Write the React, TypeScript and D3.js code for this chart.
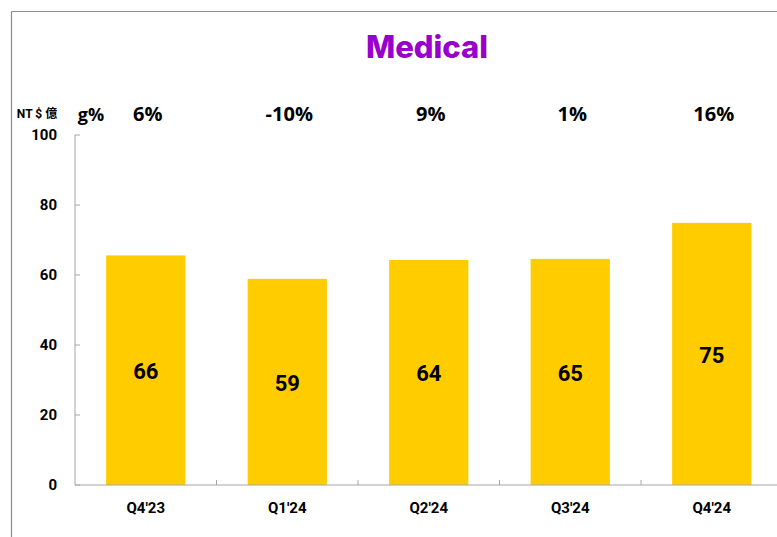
import React from 'react';
import * as d3 from 'd3';

const quarters = ["Q4'23", "Q1'24", "Q2'24", "Q3'24", "Q4'24"];
const revenue = [65.6, 58.9, 64.3, 64.6, 74.9];
const valueLabels = ['66', '59', '64', '65', '75'];
const growth = ['6%', '-10%', '9%', '1%', '16%'];
const yTicks = [0, 20, 40, 60, 80, 100];

const W = 777;
const H = 537;

const App = () => {
  // plot area
  const left = 75;
  const top = 135;
  const bottom = 485;
  const bandW = 141.5;

  const x = d3.scaleBand<string>()
    .domain(quarters)
    .range([left, left + bandW * quarters.length])
    .paddingInner(0.44)
    .paddingOuter(0.22);

  const y = d3.scaleLinear().domain([0, 100]).range([bottom, top]);

  const numFont = 'Roboto, "DejaVu Sans", sans-serif';
  const growthFont = '"Open Sans", "Noto Sans", sans-serif';

  return (
    <svg width={W} height={H} style={{ position: 'absolute', left: 0, top: 0 }}>
      <rect width={W} height={H} fill="#fff" />
      {/* frame */}
      <line x1={11.5} y1={11.5} x2={W} y2={11.5} stroke="#8c8c8c" strokeWidth={1.2} />
      <line x1={11.5} y1={11.5} x2={11.5} y2={H} stroke="#8c8c8c" strokeWidth={1.2} />

      <text x={427} y={58} textAnchor="middle" fontFamily='Inter, "Open Sans", sans-serif'
        fontWeight={800} fontSize={31} fill="#9900cc">Medical</text>

      <text x={37} y={118} textAnchor="middle" fontFamily={'Roboto, "Noto Sans CJK TC", sans-serif'}
        fontWeight={700} fontSize={12} fill="#000">NT $ 億</text>
      <text x={91} y={121} textAnchor="middle" fontFamily={growthFont}
        fontWeight={700} fontSize={18} fill="#000">g%</text>

      {quarters.map((q, i) => (
        <text key={'g' + q} x={(x(q) as number) + x.bandwidth() / 2 + 2} y={121}
          textAnchor="middle" fontFamily={growthFont} fontWeight={700} fontSize={20} fill="#000">
          {growth[i]}
        </text>
      ))}

      {/* bars */}
      {quarters.map((q, i) => (
        <g key={q}>
          <rect x={x(q)} y={y(revenue[i])} width={x.bandwidth()} height={bottom - y(revenue[i])}
            fill="#ffcc00" />
          <text x={(x(q) as number) + x.bandwidth() / 2} y={(y(revenue[i]) + bottom) / 2 + 9}
            textAnchor="middle" fontFamily={numFont} fontWeight={700} fontSize={22} fill="#000">
            {valueLabels[i]}
          </text>
          <text x={(x(q) as number) + x.bandwidth() / 2} y={513} textAnchor="middle"
            fontFamily={numFont} fontWeight={700} fontSize={15} fill="#000">{q}</text>
        </g>
      ))}

      {/* y axis */}
      <line x1={left} y1={top} x2={left} y2={bottom} stroke="#a6a6a6" strokeWidth={1} />
      {yTicks.map(t => (
        <g key={t}>
          <line x1={left} x2={left + 5} y1={y(t)} y2={y(t)} stroke="#a6a6a6" />
          <text x={57} y={y(t) + 5} textAnchor="end" fontFamily={numFont} fontWeight={700}
            fontSize={15} fill="#000">{t}</text>
        </g>
      ))}

      {/* x axis */}
      <line x1={left} y1={bottom} x2={W} y2={bottom} stroke="#a6a6a6" strokeWidth={1} />
      {quarters.slice(1).map((q, i) => (
        <line key={'t' + q} x1={left + bandW * (i + 1)} x2={left + bandW * (i + 1)}
          y1={bottom} y2={bottom - 5} stroke="#a6a6a6" />
      ))}
    </svg>
  );
};

export default App;
